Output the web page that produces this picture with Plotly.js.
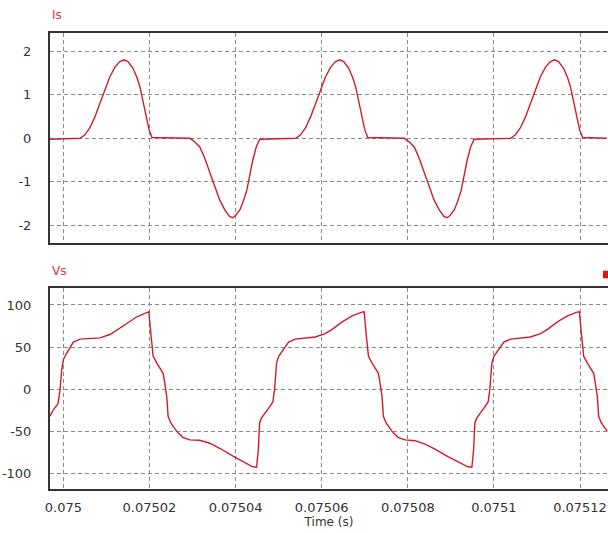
<!DOCTYPE html>
<html>
<head>
<meta charset="utf-8">
<script src="https://cdn.plot.ly/plotly-3.0.1.min.js"></script>
<style>html,body{margin:0;padding:0;background:#fff;}#chart{width:608px;height:533px;}</style>
</head>
<body>
<div id="chart"></div>
<script>
// Time axis ticks
const tickVals = [0.075, 0.07502, 0.07504, 0.07506, 0.07508, 0.0751, 0.07512];
const tickText = ["0.075", "0.07502", "0.07504", "0.07506", "0.07508", "0.0751", "0.07512"];

// Is (current) series
const isTime = [
  0.07499692, 0.07500390, 0.07500500, 0.07500620, 0.07500735, 0.07500850, 0.07500965, 0.07501080, 0.07501200, 0.07501310,
  0.07501410, 0.07501500, 0.07501615, 0.07501710, 0.07501780, 0.07501850, 0.07501920, 0.07501990, 0.07502060,
  0.07502940, 0.07503050, 0.07503170, 0.07503280, 0.07503400, 0.07503520, 0.07503630, 0.07503750, 0.07503860, 0.07503930,
  0.07504000, 0.07504100, 0.07504180, 0.07504260, 0.07504330, 0.07504400, 0.07504480, 0.07504560,
  0.07505400, 0.07505510, 0.07505630, 0.07505745, 0.07505860, 0.07505975, 0.07506090, 0.07506210, 0.07506320, 0.07506420,
  0.07506510, 0.07506625, 0.07506720, 0.07506790, 0.07506860, 0.07506930, 0.07507000, 0.07507070,
  0.07507920, 0.07508030, 0.07508150, 0.07508260, 0.07508380, 0.07508500, 0.07508610, 0.07508730, 0.07508840, 0.07508910,
  0.07508980, 0.07509080, 0.07509160, 0.07509240, 0.07509310, 0.07509380, 0.07509460, 0.07509540,
  0.07510390, 0.07510500, 0.07510620, 0.07510735, 0.07510850, 0.07510965, 0.07511080, 0.07511200, 0.07511310, 0.07511410,
  0.07511500, 0.07511615, 0.07511710, 0.07511780, 0.07511850, 0.07511920, 0.07511990, 0.07512060, 0.07512620
];
const isValues = [
  -0.02, 0, 0.08, 0.25, 0.5, 0.8, 1.12, 1.42, 1.64, 1.77,
  1.81, 1.77, 1.62, 1.4, 1.18, 0.85, 0.5, 0.2, 0.02,
  0, -0.08, -0.2, -0.45, -0.8, -1.12, -1.42, -1.65, -1.8, -1.83,
  -1.78, -1.65, -1.45, -1.2, -0.85, -0.5, -0.2, -0.02,
  0, 0.08, 0.25, 0.5, 0.8, 1.12, 1.42, 1.64, 1.77, 1.81,
  1.77, 1.62, 1.4, 1.18, 0.85, 0.5, 0.2, 0.02,
  0, -0.08, -0.2, -0.45, -0.8, -1.12, -1.42, -1.65, -1.8, -1.83,
  -1.78, -1.65, -1.45, -1.2, -0.85, -0.5, -0.2, -0.02,
  0, 0.08, 0.25, 0.5, 0.8, 1.12, 1.42, 1.64, 1.77, 1.81,
  1.77, 1.62, 1.4, 1.18, 0.85, 0.5, 0.2, 0.02, 0
];

// Vs (voltage) series
const vsTime = [
  0.07499692, 0.07499761, 0.07499877, 0.07499924, 0.07499963, 0.07500000, 0.07500079, 0.07500155, 0.07500232, 0.07500387,
  0.07500619, 0.07500850, 0.07501082, 0.07501244, 0.07501476, 0.07501708, 0.07501933, 0.07501986, 0.07502032, 0.07502056,
  0.07502086, 0.07502172, 0.07502317, 0.07502356, 0.07502403, 0.07502433, 0.07502496, 0.07502635, 0.07502774, 0.07502936,
  0.07503168, 0.07503400, 0.07503631, 0.07503932, 0.07504257, 0.07504396, 0.07504488, 0.07504528, 0.07504558, 0.07504604,
  0.07504790, 0.07504866, 0.07504906, 0.07504952,
  0.07505000, 0.07505079, 0.07505155, 0.07505232, 0.07505387, 0.07505619, 0.07505850, 0.07506082, 0.07506244, 0.07506476,
  0.07506708, 0.07506933, 0.07506986, 0.07507032, 0.07507056, 0.07507086, 0.07507172, 0.07507317, 0.07507356, 0.07507403,
  0.07507433, 0.07507496, 0.07507635, 0.07507774, 0.07507936, 0.07508168, 0.07508400, 0.07508631, 0.07508932, 0.07509257,
  0.07509396, 0.07509488, 0.07509528, 0.07509558, 0.07509604, 0.07509790, 0.07509866, 0.07509906, 0.07509952,
  0.07510000, 0.07510079, 0.07510155, 0.07510232, 0.07510387, 0.07510619, 0.07510850, 0.07511082, 0.07511244, 0.07511476,
  0.07511708, 0.07511933, 0.07511986, 0.07512032, 0.07512056, 0.07512086, 0.07512172, 0.07512317, 0.07512356, 0.07512403,
  0.07512433, 0.07512496, 0.07512635
];
const vsValues = [
  -32, -25, -17, 0, 23, 35, 43, 50, 56, 59.5,
  60.5, 61, 65, 70, 78, 86, 91.5, 92, 66, 50,
  39, 31, 19, 7, -9, -32, -40, -50, -57, -60,
  -60.5, -64, -70, -79, -87.5, -92, -92.5, -72, -40, -34,
  -21, -15, 0, 31,
  39, 45, 51, 56, 59.5, 60.5, 62, 66, 71, 80,
  87, 91.5, 92, 66, 50, 39, 31, 19, 7, -9,
  -32, -40, -50, -57, -60, -61, -65, -71, -80, -88,
  -92, -92.5, -72, -40, -34, -21, -15, 0, 31,
  39, 45, 51, 56, 59.5, 60.5, 62, 66, 71, 80,
  87, 91.5, 92, 66, 50, 39, 31, 19, 7, -9,
  -32, -40, -50
];

const isTicks = [-2, -1, 0, 1, 2];
const isTickText = ["-2", "-1", "0", "1", "2"];
const vsTicks = [-100, -50, 0, 50, 100];
const vsTickText = ["-100", "-50", "0", "50", "100"];

const lineColor = 'rgb(208,28,42)';
const tickFont = {family: 'DejaVu Sans, Verdana, sans-serif', size: 13, color: '#333'};
const gridStyle = {showgrid: true, gridcolor: '#8a8a8a', gridwidth: 1, griddash: '4px,3px', zeroline: false};
const xRange = [0.0749969, 0.0751265];

const traces = [
  {x: isTime, y: isValues, type: 'scatter', mode: 'lines', xaxis: 'x', yaxis: 'y',
   line: {color: lineColor, width: 1.4}, hoverinfo: 'skip', showlegend: false},
  {x: vsTime, y: vsValues, type: 'scatter', mode: 'lines', xaxis: 'x2', yaxis: 'y2',
   line: {color: lineColor, width: 1.4}, hoverinfo: 'skip', showlegend: false}
];

const layout = {
  width: 608, height: 533,
  margin: {l: 50, r: 0, t: 0, b: 0},
  paper_bgcolor: '#fff', plot_bgcolor: '#fff',
  showlegend: false,
  xaxis: Object.assign({}, gridStyle, {
    anchor: 'y', domain: [0, 1], range: xRange, tickmode: 'array', tickvals: tickVals,
    showticklabels: false, ticks: '', showline: true, linecolor: '#333', linewidth: 2, mirror: true
  }),
  yaxis: Object.assign({}, gridStyle, {
    anchor: 'x', domain: [0.5435, 0.9375], range: [-2.42, 2.42], tickmode: 'array', tickvals: isTicks, ticktext: isTickText,
    ticks: '', tickfont: tickFont, ticklabelstandoff: 14, showline: true, linecolor: '#333', linewidth: 2
  }),
  xaxis2: Object.assign({}, gridStyle, {
    anchor: 'y2', domain: [0, 1], range: xRange, tickmode: 'array', tickvals: tickVals, ticktext: tickText,
    ticks: '', tickfont: tickFont, ticklabelstandoff: 5, showline: true, linecolor: '#333', linewidth: 2, mirror: true,
    title: {text: 'Time (s)', font: {family: 'DejaVu Sans, Verdana, sans-serif', size: 12, color: '#333'}, standoff: 3}
  }),
  yaxis2: Object.assign({}, gridStyle, {
    anchor: 'x2', domain: [0.0826, 0.4591], range: [-118.3, 119.8], tickmode: 'array', tickvals: vsTicks, ticktext: vsTickText,
    ticks: '', tickfont: tickFont, ticklabelstandoff: 14, showline: true, linecolor: '#333', linewidth: 2
  }),
  annotations: [
    {text: 'Is', xref: 'paper', yref: 'paper', x: 0, y: 1 - 15 / 533, xanchor: 'left', yanchor: 'middle',
     showarrow: false, font: {family: 'DejaVu Sans, Verdana, sans-serif', size: 12, color: 'rgb(225,45,65)'}},
    {text: 'Vs', xref: 'paper', yref: 'paper', x: 0, y: 1 - 271 / 533, xanchor: 'left', yanchor: 'middle',
     showarrow: false, font: {family: 'DejaVu Sans, Verdana, sans-serif', size: 12, color: 'rgb(225,45,65)'}}
  ],
  shapes: [
    {type: 'rect', xref: 'paper', yref: 'paper', x0: 0.991, x1: 1.01, y0: 1 - 278.3 / 533, y1: 1 - 270.7 / 533,
     fillcolor: 'rgb(230,20,20)', line: {width: 0}}
  ]
};

Plotly.newPlot('chart', traces, layout, {staticPlot: true, displayModeBar: false});
</script>
</body>
</html>
